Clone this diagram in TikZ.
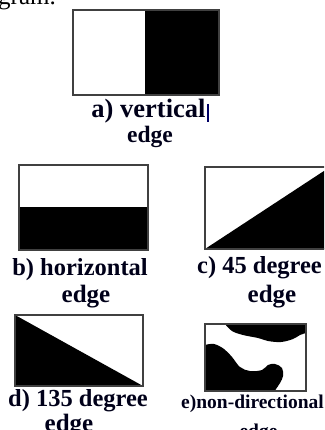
\documentclass[tikz,border=0pt]{standalone}
\usepackage{fontspec}
\setmainfont{Liberation Serif}
\begin{document}
\begin{tikzpicture}[x=1pt,y=-1pt,
  frame/.style={draw=black!75,line width=1.3pt},
  lbl/.style={inner sep=0pt,anchor=base,text=black!90!blue},
  fs/.style={font=\bfseries\fontsize{#1}{#1}\selectfont}]
\useasboundingbox (0,0) rectangle (324,430);
\clip (0,0) rectangle (324,430);
% header fragment
\node[lbl,font=\fontsize{25}{25}\selectfont,anchor=base west,text=black] (hdr) at (-2,5) {gram.};
% a) vertical
\fill[black] (145,10) rectangle (219,95);
\draw[frame] (73,10) rectangle (219,95);
\node[lbl,fs=26.5] (la1) at (148.5,118) {a) vertical};
\node[lbl,fs=23.5] (la2) at (150,143) {edge};
\draw[line width=1.6pt,black!60!blue] (208,104) -- (208,122);
% b) horizontal
\fill[black] (19,207) rectangle (148,250);
\draw[frame] (19,165) rectangle (148,250);
\node[lbl,fs=24.5] (lb1) at (80,275) {b) horizontal};
\node[lbl,fs=25] (lb2) at (86,302) {edge};
% c) 45 degree
\fill[black] (205,249) -- (330,167) -- (330,249) -- cycle;
\draw[frame] (205,167) rectangle (330,249);
\node[lbl,fs=24.5] (lc1) at (259.5,273) {c) 45 degree};
\node[lbl,fs=25] (lc2) at (272,302) {edge};
% d) 135 degree
\fill[black] (15,315) -- (143,386) -- (15,386) -- cycle;
\draw[frame] (15,315) rectangle (143,386);
\node[lbl,fs=24.5] (ld1) at (78,406) {d) 135 degree};
\node[lbl,fs=25] (ld2) at (69,431) {edge};
% e) non-directional
\fill[black] plot[smooth,tension=0.6] coordinates {(225,324) (232,331) (243,335) (258,338) (268,341) (281,342) (293,339) (300,335) (306,333)} -- (306,324) -- cycle;
\fill[black] plot[smooth,tension=0.6] coordinates {(205,345) (214,344) (224,349) (232,357) (240,367) (250,371) (262,370) (268,365) (275,364) (282,368) (283,376) (280,383) (276,389) (275,391)} -- (205,391) -- cycle;
\draw[frame] (205,324) rectangle (306,391);
\node[lbl,fs=19.5] (le1) at (252.5,408) {e)non-directional};
\node[lbl,fs=19.5] (le2) at (258.5,437) {edge};
\end{tikzpicture}
\end{document}
